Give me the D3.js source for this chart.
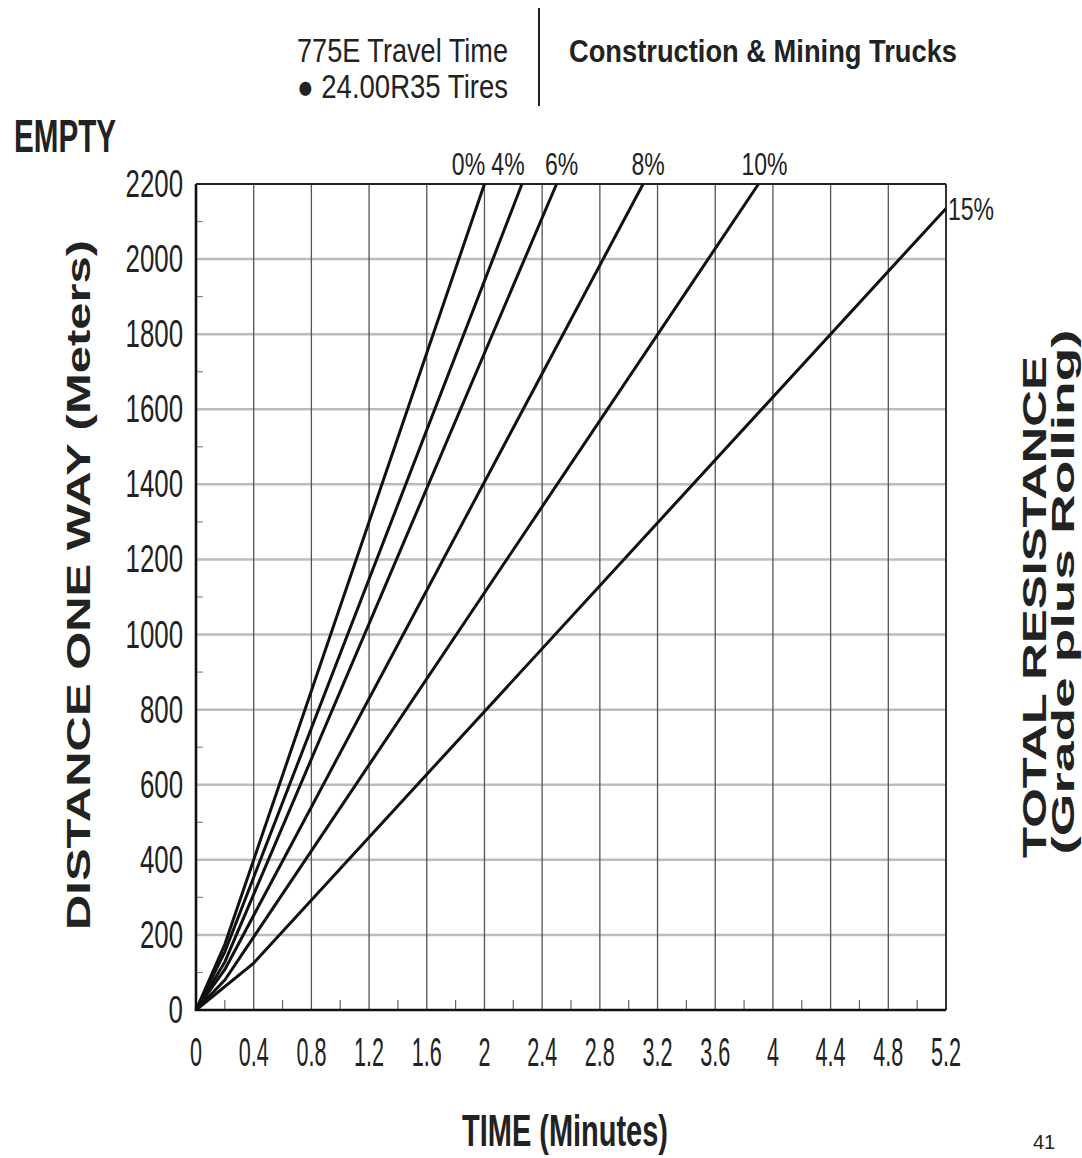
<!DOCTYPE html>
<html><head><meta charset="utf-8">
<script src="https://cdn.jsdelivr.net/npm/d3@7"></script>
<style>html,body{margin:0;padding:0;background:#fff;}svg{display:block;}</style>
</head><body>
<svg id="c" width="1082" height="1158"></svg>
<script>
// ---- data ----
const grades = ["0%", "4%", "6%", "8%", "10%", "15%"];
const line0  = [[0,0],[0.2,175],[2.0,2200]];
const line4  = [[0,0],[0.2,155],[2.26,2200]];
const line6  = [[0,0],[0.2,128],[2.5,2200]];
const line8  = [[0,0],[0.2,108],[3.1,2200]];
const line10 = [[0,0],[0.2,80],[3.9,2200]];
const line15 = [[0,0],[0.4,125],[5.2,2135]];
const seriesList = [line0, line4, line6, line8, line10, line15];
const xTickValues = [0,0.4,0.8,1.2,1.6,2,2.4,2.8,3.2,3.6,4,4.4,4.8,5.2];
const xTickLabels = ["0","0.4","0.8","1.2","1.6","2","2.4","2.8","3.2","3.6","4","4.4","4.8","5.2"];
const yTickValues = [0,200,400,600,800,1000,1200,1400,1600,1800,2000,2200];

// ---- layout ----
const svg = d3.select("#c");
const L = 196, R = 946, T = 184, B = 1010;
const x = d3.scaleLinear().domain([0, 5.2]).range([L, R]);
const y = d3.scaleLinear().domain([0, 2200]).range([B, T]);
const FONT = "'Liberation Sans', Arial, Helvetica, sans-serif";

// horizontal grid (light gray)
svg.append("g").selectAll("line").data(yTickValues.filter(v => v > 0 && v < 2200)).join("line")
  .attr("x1", L).attr("x2", R).attr("y1", d => y(d)).attr("y2", d => y(d))
  .attr("stroke", "#bcbcbc").attr("stroke-width", 2.5);

// vertical grid (dark thin)
svg.append("g").selectAll("line").data(xTickValues.filter(v => v > 0 && v < 5.2)).join("line")
  .attr("x1", d => x(d)).attr("x2", d => x(d)).attr("y1", T).attr("y2", B)
  .attr("stroke", "#555").attr("stroke-width", 1.3);

// minor ticks
const xMinor = d3.range(0.2, 5.2, 0.4);
svg.append("g").selectAll("line").data(xMinor).join("line")
  .attr("x1", d => x(d)).attr("x2", d => x(d)).attr("y1", B).attr("y2", B - 10)
  .attr("stroke", "#666").attr("stroke-width", 1.2);
const yMinor = d3.range(100, 2200, 200);
svg.append("g").selectAll("line").data(yMinor).join("line")
  .attr("x1", L).attr("x2", L + 7).attr("y1", d => y(d)).attr("y2", d => y(d))
  .attr("stroke", "#888").attr("stroke-width", 1.2);

// frame
svg.append("line").attr("x1", L).attr("x2", R).attr("y1", T).attr("y2", T).attr("stroke", "#222").attr("stroke-width", 2.2);
svg.append("line").attr("x1", R).attr("x2", R).attr("y1", T).attr("y2", B).attr("stroke", "#333").attr("stroke-width", 2);
svg.append("line").attr("x1", L).attr("x2", L).attr("y1", T).attr("y2", B + 1).attr("stroke", "#111").attr("stroke-width", 2.6);
svg.append("line").attr("x1", L - 1).attr("x2", R).attr("y1", B).attr("y2", B).attr("stroke", "#111").attr("stroke-width", 2.6);

// series lines
const lineGen = d3.line().x(d => x(d[0])).y(d => y(d[1]));
svg.append("g").selectAll("path").data(seriesList).join("path")
  .attr("d", lineGen).attr("fill", "none").attr("stroke", "#111")
  .attr("stroke-width", 3).attr("stroke-linejoin", "round");

// series labels
const labelDx = [-16, -14, 5, 5, 6, 25];
const labelDy = [-9, -9, -9, -9, -9, 12];
svg.append("g").selectAll("text").data(grades).join("text")
  .attr("transform", (d, i) => {
    const p = seriesList[i][seriesList[i].length - 1];
    return `translate(${x(p[0]) + labelDx[i]},${y(p[1]) + labelDy[i]}) scale(0.72,1)`;
  })
  .attr("text-anchor", "middle").attr("font-family", FONT).attr("font-size", 32)
  .attr("fill", "#222").text(d => d);

// tick labels
svg.append("g").selectAll("text").data(xTickValues).join("text")
  .attr("transform", d => `translate(${x(d)},1066) scale(0.54,1)`)
  .attr("text-anchor", "middle").attr("font-family", FONT).attr("font-size", 40)
  .attr("fill", "#222").text((d, i) => xTickLabels[i]);
svg.append("g").selectAll("text").data(yTickValues).join("text")
  .attr("transform", d => `translate(183,${y(d) + 13}) scale(0.68,1)`)
  .attr("text-anchor", "end").attr("font-family", FONT).attr("font-size", 38)
  .attr("fill", "#222").text(d => d);

// header
svg.append("text").attr("x", 297).attr("y", 62).attr("font-family", FONT).attr("font-size", 33)
  .attr("textLength", 211).attr("lengthAdjust", "spacingAndGlyphs").attr("fill", "#222").text("775E Travel Time");
svg.append("text").attr("x", 297).attr("y", 98).attr("font-family", FONT).attr("font-size", 33)
  .attr("textLength", 211).attr("lengthAdjust", "spacingAndGlyphs").attr("fill", "#222").text("\u25CF 24.00R35 Tires");
svg.append("line").attr("x1", 539).attr("x2", 539).attr("y1", 8).attr("y2", 106).attr("stroke", "#222").attr("stroke-width", 2);
svg.append("text").attr("x", 569).attr("y", 62).attr("font-family", FONT).attr("font-size", 31).attr("font-weight", "bold")
  .attr("textLength", 388).attr("lengthAdjust", "spacingAndGlyphs").attr("fill", "#222").text("Construction & Mining Trucks");
svg.append("text").attr("x", 14).attr("y", 152).attr("font-family", FONT).attr("font-size", 46).attr("font-weight", "bold")
  .attr("textLength", 102).attr("lengthAdjust", "spacingAndGlyphs").attr("fill", "#222").text("EMPTY");

// axis titles
svg.append("text").attr("transform", "translate(90,585) rotate(-90)").attr("text-anchor", "middle")
  .attr("font-family", FONT).attr("font-size", 34).attr("font-weight", "bold")
  .attr("textLength", 690).attr("lengthAdjust", "spacingAndGlyphs").attr("fill", "#222").text("DISTANCE ONE WAY (Meters)");
svg.append("text").attr("x", 565).attr("y", 1146).attr("text-anchor", "middle")
  .attr("font-family", FONT).attr("font-size", 44).attr("font-weight", "bold")
  .attr("textLength", 206).attr("lengthAdjust", "spacingAndGlyphs").attr("fill", "#222").text("TIME (Minutes)");
svg.append("text").attr("transform", "translate(1046,607) rotate(-90)").attr("text-anchor", "middle")
  .attr("font-family", FONT).attr("font-size", 34).attr("font-weight", "bold")
  .attr("textLength", 502).attr("lengthAdjust", "spacingAndGlyphs").attr("fill", "#222").text("TOTAL RESISTANCE");
svg.append("text").attr("transform", "translate(1074,592) rotate(-90)").attr("text-anchor", "middle")
  .attr("font-family", FONT).attr("font-size", 31).attr("font-weight", "bold")
  .attr("textLength", 525).attr("lengthAdjust", "spacingAndGlyphs").attr("fill", "#222").text("(Grade plus Rolling)");

// page number
svg.append("text").attr("x", 1044).attr("y", 1149).attr("text-anchor", "middle")
  .attr("font-family", FONT).attr("font-size", 20).attr("fill", "#222").text("41");
</script>
</body></html>
